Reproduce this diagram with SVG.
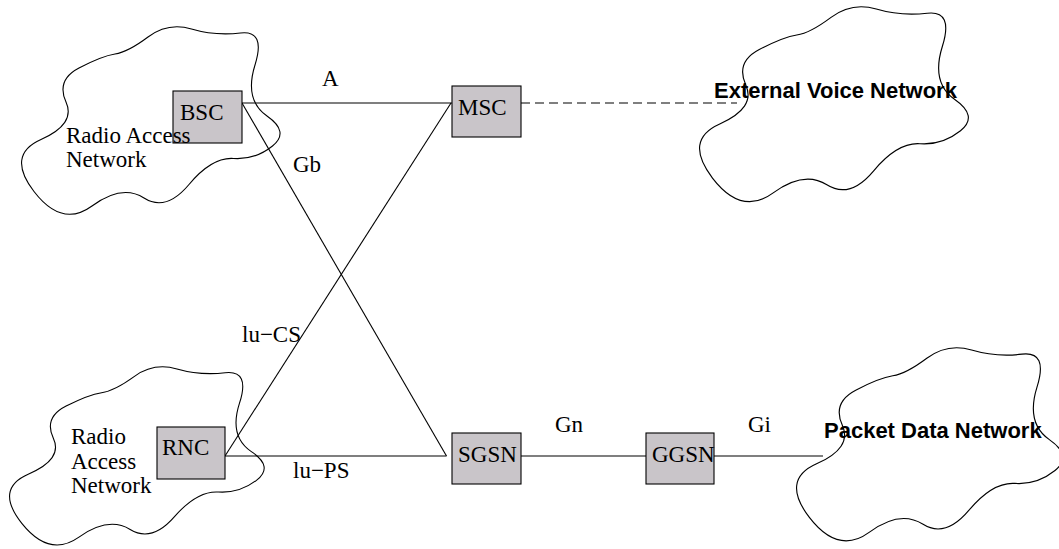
<svg xmlns="http://www.w3.org/2000/svg" xmlns:xlink="http://www.w3.org/1999/xlink" width="1059" height="549" viewBox="0 0 1059 549">
  <style>
    .cloud{fill:none;stroke:#000;stroke-width:1.1}
    .box{fill:#c9c5c9;stroke:#000;stroke-width:1.1}
    .link{fill:none;stroke:#000;stroke-width:1.1}
    .dash{stroke-dasharray:9 5}
    .serif{font-family:"Liberation Serif","Times New Roman",serif;font-size:23px;fill:#000}
    .sans{font-family:"Liberation Sans",Arial,sans-serif;font-size:22px;font-weight:bold;fill:#000}
  </style>
  <defs>
    <!-- cloud outline: quadratic B-spline through edge midpoints of its control polygon -->
    <path id="cloud" d="M148,37 Q168,22 191.5,29 Q215,36 240.5,33 Q266,30 255,65 Q244,100 267,116 Q290,132 272.5,146 Q255,160 233.5,158.5 Q212,157 189,184.5 Q166,212 144,198 Q122,184 92,206 Q62,228 34,191.5 Q6,155 41,139.5 Q76,124 66,102 Q56,80 79,68 Q102,56 115,54 Q128,52 148,37 Z"/>
  </defs>

  <!-- network clouds -->
  <g id="ran-gsm">
    <use xlink:href="#cloud" class="cloud"/>
  </g>
  <g id="ran-umts">
    <use xlink:href="#cloud" class="cloud" vector-effect="non-scaling-stroke" transform="translate(10,368) scale(0.985,0.95) translate(-22,-28)"/>
  </g>
  <g id="voice-net">
    <use xlink:href="#cloud" class="cloud" transform="translate(700,8) scale(1.04) translate(-22,-28)"/>
  </g>
  <g id="packet-net">
    <use xlink:href="#cloud" class="cloud" transform="translate(797,349) scale(1.03) translate(-22,-28)"/>
  </g>

  <!-- interfaces -->
  <g id="connectors">
    <line class="link" x1="242" y1="103" x2="452" y2="103"/>
    <line class="link" x1="242" y1="103" x2="446.5" y2="456"/>
    <line class="link" x1="225" y1="456" x2="451" y2="103"/>
    <line class="link" x1="225" y1="456" x2="446.5" y2="456"/>
    <line class="link" x1="521" y1="456" x2="646" y2="456"/>
    <line class="link" x1="714" y1="456" x2="823" y2="456"/>
    <line class="link dash" x1="521" y1="103" x2="737" y2="103"/>
    <text class="serif" x="322" y="86">A</text>
    <text class="serif" x="293" y="172">Gb</text>
    <text class="serif" x="242" y="342">lu−CS</text>
    <text class="serif" x="293" y="478">lu−PS</text>
    <text class="serif" x="555" y="432">Gn</text>
    <text class="serif" x="748" y="432">Gi</text>
  </g>

  <!-- network elements -->
  <g id="bsc">
    <rect class="box" x="173" y="91" width="69" height="52"/>
    <text class="serif" x="180" y="120">BSC</text>
  </g>
  <g id="msc">
    <rect class="box" x="452" y="86" width="69" height="51"/>
    <text class="serif" x="458" y="115">MSC</text>
  </g>
  <g id="rnc">
    <rect class="box" x="157" y="427" width="68" height="52"/>
    <text class="serif" x="162" y="455">RNC</text>
  </g>
  <g id="sgsn">
    <rect class="box" x="452" y="433" width="69" height="51"/>
    <text class="serif" x="458" y="462">SGSN</text>
  </g>
  <g id="ggsn">
    <rect class="box" x="646" y="433" width="68" height="51"/>
    <text class="serif" x="652" y="462">GGSN</text>
  </g>

  <!-- cloud labels -->
  <g id="cloud-labels">
    <text class="serif" x="66" y="143">Radio Access</text>
    <text class="serif" x="66" y="167">Network</text>
    <text class="serif" x="71" y="444">Radio</text>
    <text class="serif" x="71" y="469">Access</text>
    <text class="serif" x="71" y="493">Network</text>
    <text class="sans" x="714" y="98">External Voice Network</text>
    <text class="sans" x="824" y="438">Packet Data Network</text>
  </g>
</svg>
